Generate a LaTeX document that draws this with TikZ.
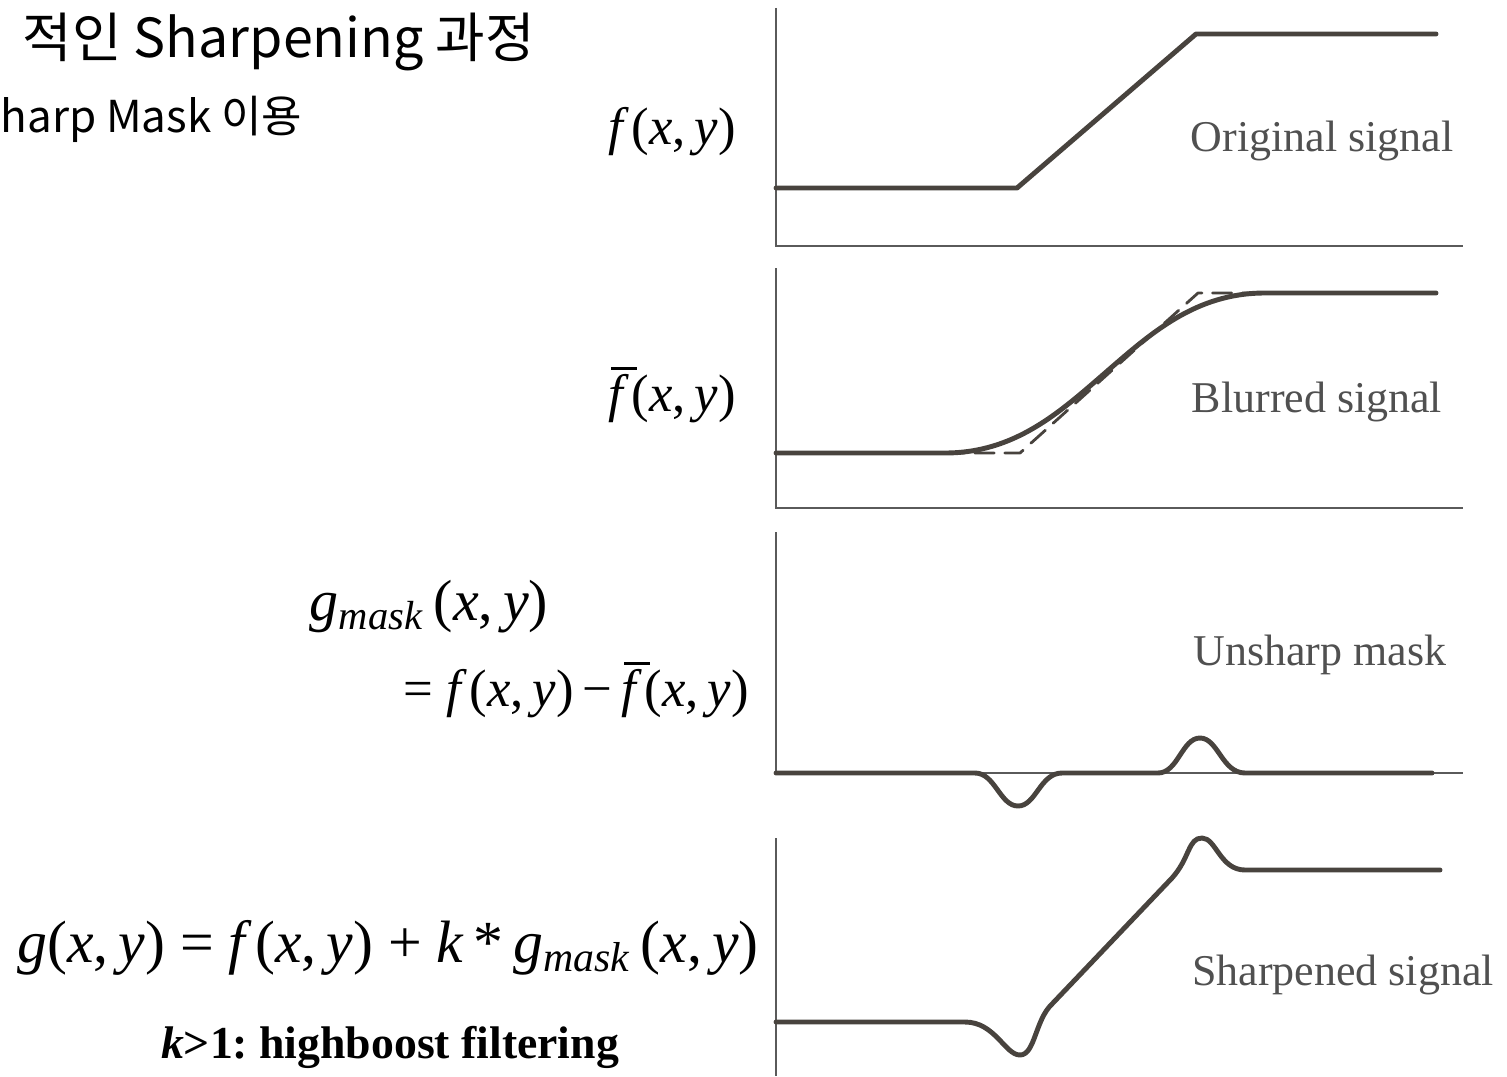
\documentclass[tikz,border=0pt]{standalone}
\usepackage{fontspec}
\setmainfont{Liberation Serif}
\newfontfamily\kofont{Noto Sans CJK KR}
\definecolor{sigcol}{HTML}{48433E}
\definecolor{axcol}{HTML}{5A5A5A}
\definecolor{lblcol}{HTML}{505050}
\newcommand{\xyv}{({\itshape x},\,{\itshape y})}
\newcommand{\fv}{{\itshape f}\,\xyv}
\newcommand{\fbarsym}{\leavevmode\rlap{\kern0.06em\rule[0.78em]{0.48em}{0.05em}}{\itshape f}}
\newcommand{\fbarv}{\fbarsym\,\xyv}
\newcommand{\gmaskv}{{\itshape g}\textsubscript{\itshape mask}\,\xyv}

\begin{document}
\begin{tikzpicture}[x=0.01cm,y=-0.01cm,
  sig/.style={draw=sigcol,line width=1.4pt,line join=round,line cap=round},
  ax/.style={draw=axcol,line width=0.5pt},
  lbl/.style={text=lblcol,font=\fontsize{12.5}{14}\selectfont},
  eq/.style={font=\fontsize{15}{17}\selectfont}]
\useasboundingbox (0,0) rectangle (1507,1076);
\node[anchor=base west,inner sep=0pt,font=\fontsize{15.3}{18}\selectfont] (title) at (22,58) {\kofont 적인 Sharpening 과정};
\node[anchor=base west,inner sep=0pt,font=\fontsize{12.5}{16}\selectfont] (subtitle) at (0,133) {\kofont harp Mask 이용};
% axes
\draw[ax] (776,8) -- (776,246) -- (1463,246);
\draw[ax] (776,268) -- (776,508) -- (1463,508);
\draw[ax] (776,532) -- (776,773);
\draw[ax] (776,773) -- (1463,773);
\draw[ax] (776,838) -- (776,1076);
% signals
\draw[sig] (776,188) -- (1017,188) -- (1196,34) -- (1436,34);
\draw[sig,line width=0.8pt,dash pattern=on 5.5pt off 3pt] (945,453) -- (1020,453) -- (1198,293) -- (1262,293);
\draw[sig] (776,453) -- (945,453) .. controls (1015,453) and (1060,412) .. (1105,373)
  .. controls (1150,334) and (1195,293) .. (1265,293) -- (1436,293);
\draw[sig] (776,773) -- (975,773) .. controls (995,773) and (1000,806) .. (1018,806)
  .. controls (1036,806) and (1040,773) .. (1062,773) -- (1158,773)
  .. controls (1178,773) and (1182,738) .. (1200,738)
  .. controls (1218,738) and (1222,773) .. (1245,773) -- (1432,773);
\draw[sig] (776,1022) -- (965,1022) .. controls (995,1022) and (1005,1055) .. (1020,1055)
  .. controls (1035,1055) and (1035,1020) .. (1052,1004) -- (1172,878)
  .. controls (1190,858) and (1188,838) .. (1202,838)
  .. controls (1216,838) and (1220,870) .. (1245,870) -- (1440,870);
% labels
\node[lbl] (orig) at (1322,141) {Original signal};
\node[lbl] (blur) at (1317,402) {Blurred signal};
\node[lbl] (mask) at (1320,655) {Unsharp mask};
\node[lbl] (sharp) at (1343,975) {Sharpened signal};
\node[eq] (fxy) at (672,132) {\fv};
\node[eq] (fbar) at (672,395) {\fbarv};
\node[eq,font=\fontsize{16.5}{18}\selectfont] (gmask) at (429,607) {\gmaskv};
\node[eq,anchor=east] (gdef) at (761,690) {= \fv\,−\,\fbarv};
\node[eq,font=\fontsize{17}{19}\selectfont] (geq) at (388,948) {{\itshape g}\xyv{} = \fv{} + {\itshape k}\,*\,\gmaskv};
\node[font=\fontsize{13}{15}\selectfont\bfseries\frenchspacing] (hb) at (390,1047) {{\itshape k}>1: highboost filtering};
\end{tikzpicture}
\end{document}
